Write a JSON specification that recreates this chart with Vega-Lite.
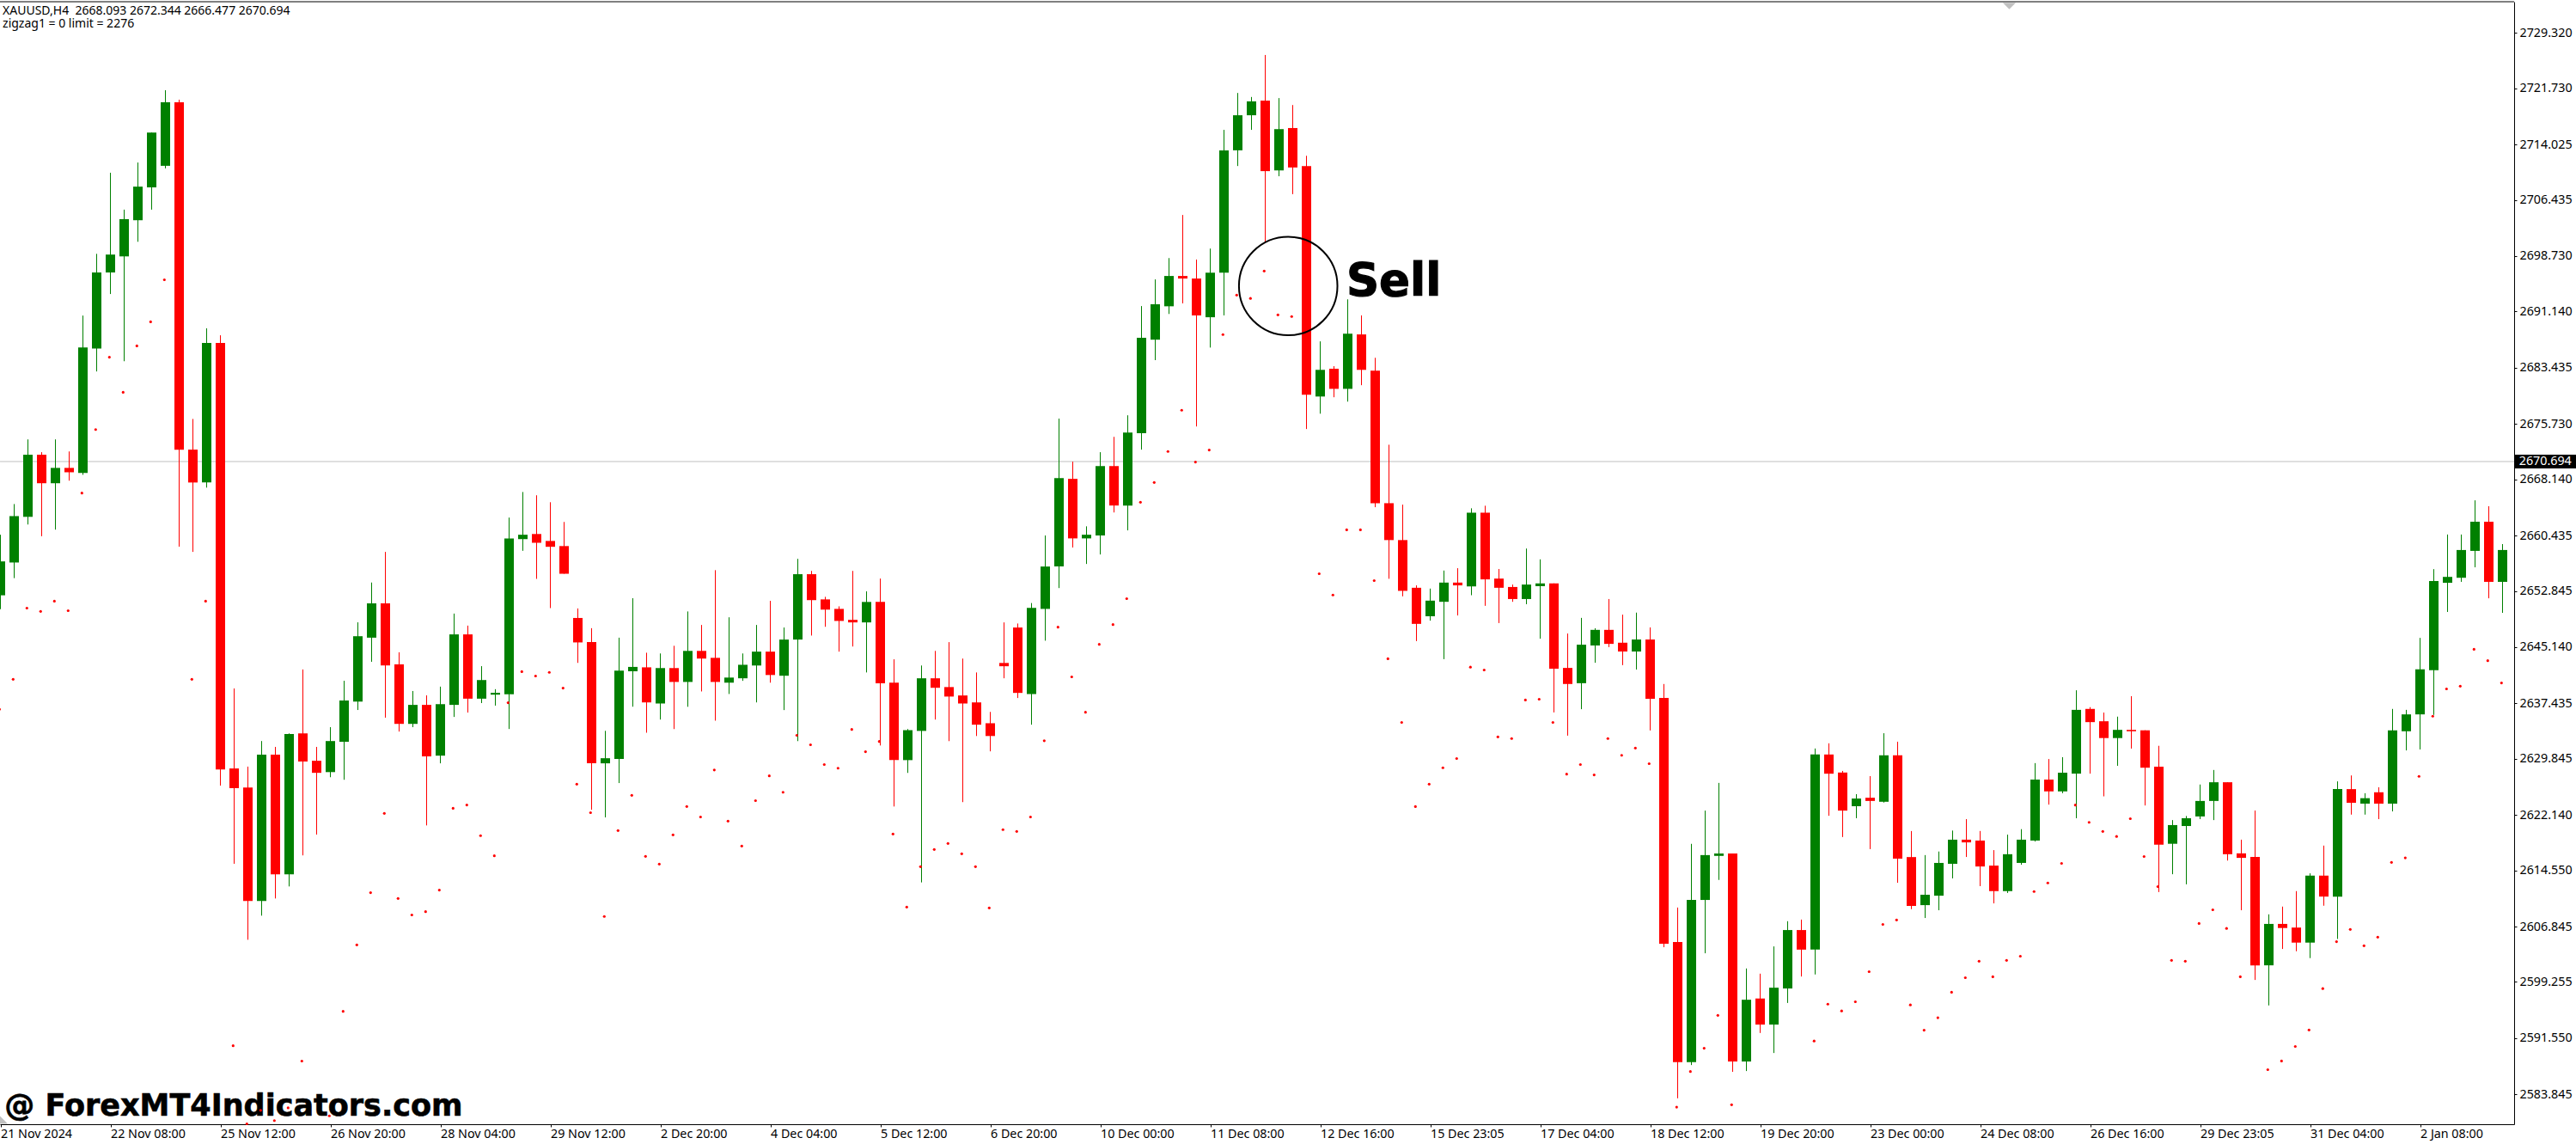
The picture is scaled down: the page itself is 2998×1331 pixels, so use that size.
{
  "$schema": "https://vega.github.io/schema/vega-lite/v6.json",
  "width": 2926,
  "height": 1306,
  "autosize": "none",
  "padding": {"left": 0, "top": 2, "right": 72, "bottom": 23},
  "background": "#ffffff",
  "view": {"stroke": null},
  "datasets": {
    "candles": [
      {"i":0,"o":2652.34,"h":2660.63,"l":2650.44,"c":2656.98},
      {"i":1,"o":2656.83,"h":2664.83,"l":2654.69,"c":2663.18},
      {"i":2,"o":2663.08,"h":2673.68,"l":2662.03,"c":2671.58},
      {"i":3,"o":2671.58,"h":2671.93,"l":2660.43,"c":2667.68},
      {"i":4,"o":2667.68,"h":2673.68,"l":2661.33,"c":2669.78},
      {"i":5,"o":2669.78,"h":2672.03,"l":2668.03,"c":2669.18},
      {"i":6,"o":2669.08,"h":2690.63,"l":2668.83,"c":2686.28},
      {"i":7,"o":2686.13,"h":2699.08,"l":2682.98,"c":2696.53},
      {"i":8,"o":2696.53,"h":2710.18,"l":2693.58,"c":2698.98},
      {"i":9,"o":2698.73,"h":2705.13,"l":2684.38,"c":2703.83},
      {"i":10,"o":2703.68,"h":2711.58,"l":2700.73,"c":2708.28},
      {"i":11,"o":2708.18,"h":2715.68,"l":2705.13,"c":2715.68},
      {"i":12,"o":2711.13,"h":2721.48,"l":2710.78,"c":2719.83},
      {"i":13,"o":2719.83,"h":2720.18,"l":2659.0,"c":2672.28},
      {"i":14,"o":2672.28,"h":2676.48,"l":2658.28,"c":2667.78},
      {"i":15,"o":2667.78,"h":2688.88,"l":2667.08,"c":2686.88},
      {"i":16,"o":2686.88,"h":2687.93,"l":2626.29,"c":2628.49},
      {"i":17,"o":2628.64,"h":2639.59,"l":2615.59,"c":2625.94},
      {"i":18,"o":2626.04,"h":2628.89,"l":2605.19,"c":2610.49},
      {"i":19,"o":2610.49,"h":2632.39,"l":2608.49,"c":2630.54},
      {"i":20,"o":2630.54,"h":2631.59,"l":2610.84,"c":2614.14},
      {"i":21,"o":2614.14,"h":2633.44,"l":2612.49,"c":2633.34},
      {"i":22,"o":2633.44,"h":2642.19,"l":2616.74,"c":2629.59},
      {"i":23,"o":2629.69,"h":2631.59,"l":2619.59,"c":2628.04},
      {"i":24,"o":2628.14,"h":2634.29,"l":2627.44,"c":2632.39},
      {"i":25,"o":2632.29,"h":2640.64,"l":2627.09,"c":2637.94},
      {"i":26,"o":2637.79,"h":2648.64,"l":2636.64,"c":2646.74},
      {"i":27,"o":2646.54,"h":2654.09,"l":2643.24,"c":2651.24},
      {"i":28,"o":2651.24,"h":2658.28,"l":2635.59,"c":2642.74},
      {"i":29,"o":2642.89,"h":2644.54,"l":2633.69,"c":2634.74},
      {"i":30,"o":2634.74,"h":2639.24,"l":2634.29,"c":2637.34},
      {"i":31,"o":2637.34,"h":2638.64,"l":2620.84,"c":2630.29},
      {"i":32,"o":2630.39,"h":2639.84,"l":2629.34,"c":2637.44},
      {"i":33,"o":2637.34,"h":2649.84,"l":2635.69,"c":2646.99},
      {"i":34,"o":2646.99,"h":2648.19,"l":2636.29,"c":2638.19},
      {"i":35,"o":2638.19,"h":2642.64,"l":2637.59,"c":2640.74},
      {"i":36,"o":2638.74,"h":2639.49,"l":2637.24,"c":2638.99},
      {"i":37,"o":2638.79,"h":2662.98,"l":2634.04,"c":2660.13},
      {"i":38,"o":2660.03,"h":2666.48,"l":2658.43,"c":2660.63},
      {"i":39,"o":2660.73,"h":2666.03,"l":2654.59,"c":2659.53},
      {"i":40,"o":2659.78,"h":2665.08,"l":2650.59,"c":2658.98},
      {"i":41,"o":2659.08,"h":2662.38,"l":2655.29,"c":2655.29},
      {"i":42,"o":2649.24,"h":2650.54,"l":2643.09,"c":2645.89},
      {"i":43,"o":2645.94,"h":2647.84,"l":2622.99,"c":2629.34},
      {"i":44,"o":2629.34,"h":2633.79,"l":2621.94,"c":2630.04},
      {"i":45,"o":2629.94,"h":2646.54,"l":2626.64,"c":2642.04},
      {"i":46,"o":2641.94,"h":2651.94,"l":2637.09,"c":2642.54},
      {"i":47,"o":2642.48,"h":2644.48,"l":2633.53,"c":2637.68},
      {"i":48,"o":2637.53,"h":2644.38,"l":2635.33,"c":2642.38},
      {"i":49,"o":2642.38,"h":2645.43,"l":2634.03,"c":2640.48},
      {"i":50,"o":2640.48,"h":2650.13,"l":2637.08,"c":2644.73},
      {"i":51,"o":2644.73,"h":2648.28,"l":2639.18,"c":2643.68},
      {"i":52,"o":2643.78,"h":2655.78,"l":2635.18,"c":2640.48},
      {"i":53,"o":2640.38,"h":2649.33,"l":2638.83,"c":2641.08},
      {"i":54,"o":2640.98,"h":2644.38,"l":2640.63,"c":2642.83},
      {"i":55,"o":2642.73,"h":2648.28,"l":2637.68,"c":2644.63},
      {"i":56,"o":2644.63,"h":2651.58,"l":2640.38,"c":2641.43},
      {"i":57,"o":2641.33,"h":2647.93,"l":2636.63,"c":2646.28},
      {"i":58,"o":2646.28,"h":2657.33,"l":2632.38,"c":2655.23},
      {"i":59,"o":2655.23,"h":2655.68,"l":2646.83,"c":2651.68},
      {"i":60,"o":2651.78,"h":2652.13,"l":2648.03,"c":2650.38},
      {"i":61,"o":2650.48,"h":2650.83,"l":2644.63,"c":2648.83},
      {"i":62,"o":2648.98,"h":2655.68,"l":2645.33,"c":2648.63},
      {"i":63,"o":2648.63,"h":2652.88,"l":2641.78,"c":2651.43},
      {"i":64,"o":2651.43,"h":2654.63,"l":2631.78,"c":2640.28},
      {"i":65,"o":2640.38,"h":2643.58,"l":2623.43,"c":2629.78},
      {"i":66,"o":2629.78,"h":2634.03,"l":2628.03,"c":2633.88},
      {"i":67,"o":2633.78,"h":2642.73,"l":2613.04,"c":2640.98},
      {"i":68,"o":2640.98,"h":2644.73,"l":2635.33,"c":2639.68},
      {"i":69,"o":2639.78,"h":2645.93,"l":2632.38,"c":2638.48},
      {"i":70,"o":2638.63,"h":2643.68,"l":2624.03,"c":2637.53},
      {"i":71,"o":2637.68,"h":2641.78,"l":2633.08,"c":2634.63},
      {"i":72,"o":2634.83,"h":2636.38,"l":2630.98,"c":2633.08},
      {"i":73,"o":2643.08,"h":2648.63,"l":2640.98,"c":2642.63},
      {"i":74,"o":2647.93,"h":2648.48,"l":2638.28,"c":2638.98},
      {"i":75,"o":2638.83,"h":2651.28,"l":2634.63,"c":2650.63},
      {"i":76,"o":2650.48,"h":2660.53,"l":2646.13,"c":2656.28},
      {"i":77,"o":2656.28,"h":2676.53,"l":2653.33,"c":2668.38},
      {"i":78,"o":2668.28,"h":2670.63,"l":2658.88,"c":2660.13},
      {"i":79,"o":2660.13,"h":2661.78,"l":2656.63,"c":2660.63},
      {"i":80,"o":2660.53,"h":2671.93,"l":2657.93,"c":2670.03},
      {"i":81,"o":2670.03,"h":2674.03,"l":2663.68,"c":2664.63},
      {"i":82,"o":2664.63,"h":2676.98,"l":2661.23,"c":2674.63},
      {"i":83,"o":2674.53,"h":2691.93,"l":2672.28,"c":2687.58},
      {"i":84,"o":2687.33,"h":2695.58,"l":2684.53,"c":2692.18},
      {"i":85,"o":2691.9,"h":2698.5,"l":2690.85,"c":2696.05},
      {"i":86,"o":2696.05,"h":2704.4,"l":2692.3,"c":2695.7},
      {"i":87,"o":2695.7,"h":2698.3,"l":2675.45,"c":2690.65},
      {"i":88,"o":2690.4,"h":2699.8,"l":2686.25,"c":2696.5},
      {"i":89,"o":2696.5,"h":2716.05,"l":2690.65,"c":2713.25},
      {"i":90,"o":2713.25,"h":2721.1,"l":2711.1,"c":2718.05},
      {"i":91,"o":2718.05,"h":2720.55,"l":2716.05,"c":2719.95},
      {"i":92,"o":2720.05,"h":2726.3,"l":2700.55,"c":2710.4},
      {"i":93,"o":2710.5,"h":2720.4,"l":2709.7,"c":2716.15},
      {"i":94,"o":2716.3,"h":2719.45,"l":2707.25,"c":2710.9},
      {"i":95,"o":2711.1,"h":2712.5,"l":2675.1,"c":2679.8},
      {"i":96,"o":2679.55,"h":2687.1,"l":2677.2,"c":2683.2},
      {"i":97,"o":2683.35,"h":2683.7,"l":2679.45,"c":2680.6},
      {"i":98,"o":2680.6,"h":2692.85,"l":2678.85,"c":2688.15},
      {"i":99,"o":2688.05,"h":2690.65,"l":2681.1,"c":2683.2},
      {"i":100,"o":2683.1,"h":2684.85,"l":2664.4,"c":2664.95},
      {"i":101,"o":2664.95,"h":2672.95,"l":2654.6,"c":2659.9},
      {"i":102,"o":2659.9,"h":2664.75,"l":2652.2,"c":2652.95},
      {"i":103,"o":2653.37,"h":2653.7,"l":2646.07,"c":2648.43},
      {"i":104,"o":2649.47,"h":2653.26,"l":2648.87,"c":2651.61},
      {"i":105,"o":2651.45,"h":2655.73,"l":2643.6,"c":2654.08},
      {"i":106,"o":2654.08,"h":2656.05,"l":2649.58,"c":2653.7},
      {"i":107,"o":2653.55,"h":2664.25,"l":2652.35,"c":2663.65},
      {"i":108,"o":2663.65,"h":2664.6,"l":2650.9,"c":2654.52},
      {"i":109,"o":2654.63,"h":2655.94,"l":2648.54,"c":2653.37},
      {"i":110,"o":2653.48,"h":2653.81,"l":2651.45,"c":2651.83},
      {"i":111,"o":2651.83,"h":2658.74,"l":2651.12,"c":2653.81},
      {"i":112,"o":2653.59,"h":2657.26,"l":2646.4,"c":2653.97},
      {"i":113,"o":2653.97,"h":2653.97,"l":2636.31,"c":2642.29},
      {"i":114,"o":2642.4,"h":2647.11,"l":2633.13,"c":2640.2},
      {"i":115,"o":2640.31,"h":2649.25,"l":2636.75,"c":2645.58},
      {"i":116,"o":2645.47,"h":2647.83,"l":2643.11,"c":2647.61},
      {"i":117,"o":2647.61,"h":2651.83,"l":2645.25,"c":2645.69},
      {"i":118,"o":2645.85,"h":2649.69,"l":2642.78,"c":2644.65},
      {"i":119,"o":2644.65,"h":2649.97,"l":2642.18,"c":2646.29},
      {"i":120,"o":2646.29,"h":2647.94,"l":2633.84,"c":2638.17},
      {"i":121,"o":2638.28,"h":2640.2,"l":2604.17,"c":2604.66},
      {"i":122,"o":2604.88,"h":2609.6,"l":2583.49,"c":2588.43},
      {"i":123,"o":2588.43,"h":2618.32,"l":2588.04,"c":2610.64},
      {"i":124,"o":2610.64,"h":2622.87,"l":2603.34,"c":2616.78},
      {"i":125,"o":2616.67,"h":2626.66,"l":2613.38,"c":2617.0},
      {"i":126,"o":2617.0,"h":2617.0,"l":2587.11,"c":2588.53},
      {"i":127,"o":2588.53,"h":2601.26,"l":2587.22,"c":2596.98},
      {"i":128,"o":2597.15,"h":2600.55,"l":2592.43,"c":2593.58},
      {"i":129,"o":2593.58,"h":2604.28,"l":2589.69,"c":2598.63},
      {"i":130,"o":2598.52,"h":2607.73,"l":2596.54,"c":2606.52},
      {"i":131,"o":2606.52,"h":2607.95,"l":2600.16,"c":2603.84},
      {"i":132,"o":2603.84,"h":2631.37,"l":2600.44,"c":2630.55},
      {"i":133,"o":2630.55,"h":2632.08,"l":2622.16,"c":2627.92},
      {"i":134,"o":2628.08,"h":2628.3,"l":2619.25,"c":2622.87},
      {"i":135,"o":2623.47,"h":2625.12,"l":2621.83,"c":2624.52},
      {"i":136,"o":2624.63,"h":2627.59,"l":2617.6,"c":2624.19},
      {"i":137,"o":2624.08,"h":2633.46,"l":2623.97,"c":2630.44},
      {"i":138,"o":2630.44,"h":2632.3,"l":2612.99,"c":2616.29},
      {"i":139,"o":2616.51,"h":2620.07,"l":2609.38,"c":2609.82},
      {"i":140,"o":2609.93,"h":2616.78,"l":2608.17,"c":2611.35},
      {"i":141,"o":2611.22,"h":2617.27,"l":2609.23,"c":2615.71},
      {"i":142,"o":2615.59,"h":2620.14,"l":2613.59,"c":2618.89},
      {"i":143,"o":2618.89,"h":2621.7,"l":2616.52,"c":2618.52},
      {"i":144,"o":2618.77,"h":2620.08,"l":2612.53,"c":2615.22},
      {"i":145,"o":2615.34,"h":2617.46,"l":2610.17,"c":2611.85},
      {"i":146,"o":2611.85,"h":2619.58,"l":2611.6,"c":2616.9},
      {"i":147,"o":2615.71,"h":2620.33,"l":2615.46,"c":2618.89},
      {"i":148,"o":2618.77,"h":2629.37,"l":2618.64,"c":2627.12},
      {"i":149,"o":2627.12,"h":2629.93,"l":2623.69,"c":2625.5},
      {"i":150,"o":2625.5,"h":2630.18,"l":2625.25,"c":2628.06},
      {"i":151,"o":2627.93,"h":2639.34,"l":2621.82,"c":2636.66},
      {"i":152,"o":2636.79,"h":2637.03,"l":2627.93,"c":2634.98},
      {"i":153,"o":2635.1,"h":2636.29,"l":2624.82,"c":2632.8},
      {"i":154,"o":2632.8,"h":2635.73,"l":2629.0,"c":2633.92},
      {"i":155,"o":2633.92,"h":2638.53,"l":2631.36,"c":2633.73},
      {"i":156,"o":2633.86,"h":2633.86,"l":2623.57,"c":2628.74},
      {"i":157,"o":2628.87,"h":2631.74,"l":2611.72,"c":2618.21},
      {"i":158,"o":2618.33,"h":2621.57,"l":2614.16,"c":2620.89},
      {"i":159,"o":2620.76,"h":2622.13,"l":2612.78,"c":2621.82},
      {"i":160,"o":2622.07,"h":2626.44,"l":2621.7,"c":2624.19},
      {"i":161,"o":2624.19,"h":2628.43,"l":2621.57,"c":2626.75},
      {"i":162,"o":2626.75,"h":2626.75,"l":2616.03,"c":2616.9},
      {"i":163,"o":2617.02,"h":2618.89,"l":2609.23,"c":2616.4},
      {"i":164,"o":2616.52,"h":2622.88,"l":2599.69,"c":2601.69},
      {"i":165,"o":2601.69,"h":2608.67,"l":2596.2,"c":2607.36},
      {"i":166,"o":2607.36,"h":2609.73,"l":2603.93,"c":2606.8},
      {"i":167,"o":2606.86,"h":2611.85,"l":2603.62,"c":2604.8},
      {"i":168,"o":2604.8,"h":2614.28,"l":2602.68,"c":2613.97},
      {"i":169,"o":2613.97,"h":2618.08,"l":2609.85,"c":2611.1},
      {"i":170,"o":2611.1,"h":2626.87,"l":2605.3,"c":2625.81},
      {"i":171,"o":2625.81,"h":2627.68,"l":2622.32,"c":2623.94},
      {"i":172,"o":2623.82,"h":2625.25,"l":2622.32,"c":2624.57},
      {"i":173,"o":2625.38,"h":2626.06,"l":2621.7,"c":2623.82},
      {"i":174,"o":2623.82,"h":2636.79,"l":2622.76,"c":2633.86},
      {"i":175,"o":2633.73,"h":2636.66,"l":2631.11,"c":2636.04},
      {"i":176,"o":2636.04,"h":2646.51,"l":2631.24,"c":2642.21},
      {"i":177,"o":2642.08,"h":2655.92,"l":2635.97,"c":2654.3},
      {"i":178,"o":2654.05,"h":2660.66,"l":2650.06,"c":2654.86},
      {"i":179,"o":2654.74,"h":2660.66,"l":2654.18,"c":2658.54},
      {"i":180,"o":2658.42,"h":2665.34,"l":2656.17,"c":2662.41},
      {"i":181,"o":2662.41,"h":2664.53,"l":2651.93,"c":2654.18},
      {"i":182,"o":2654.18,"h":2659.35,"l":2649.94,"c":2658.54}
    ],
    "zigzag": [
      {"i":0,"p":2636.74},{"i":1,"p":2640.84},{"i":2,"p":2650.59},{"i":3,"p":2650.14},{"i":4,"p":2651.54},{"i":5,"p":2650.24},
      {"i":6,"p":2666.33},{"i":7,"p":2675.03},{"i":8,"p":2684.93},{"i":9,"p":2680.13},{"i":10,"p":2686.48},{"i":11,"p":2689.78},{"i":12,"p":2695.53},
      {"i":14,"p":2640.84},{"i":15,"p":2651.54},{"i":17,"p":2590.69},{"i":18,"p":2580.0},{"i":19,"p":2581.84},{"i":20,"p":2580.44},{"i":21,"p":2582.19},{"i":22,"p":2588.59},
      {"i":24,"p":2581.09},{"i":25,"p":2595.39},{"i":26,"p":2604.49},{"i":27,"p":2611.64},{"i":28,"p":2622.49},{"i":29,"p":2610.84},{"i":30,"p":2608.59},{"i":31,"p":2609.04},{"i":32,"p":2611.99},
      {"i":33,"p":2623.19},{"i":34,"p":2623.64},{"i":35,"p":2619.44},{"i":36,"p":2616.69},{"i":37,"p":2637.64},{"i":38,"p":2641.89},{"i":39,"p":2641.29},{"i":40,"p":2641.79},{"i":41,"p":2639.64},
      {"i":42,"p":2626.49},{"i":43,"p":2622.59},{"i":44,"p":2608.38},{"i":45,"p":2620.14},{"i":46,"p":2624.96},{"i":47,"p":2616.61},{"i":48,"p":2615.55},{"i":49,"p":2619.55},
      {"i":50,"p":2623.43},{"i":51,"p":2622.0},{"i":52,"p":2628.43},{"i":53,"p":2621.43},{"i":54,"p":2618.02},{"i":55,"p":2624.23},{"i":56,"p":2627.63},{"i":57,"p":2625.38},
      {"i":58,"p":2633.18},{"i":59,"p":2631.88},{"i":60,"p":2629.18},{"i":61,"p":2628.68},{"i":62,"p":2633.98},{"i":63,"p":2630.93},{"i":64,"p":2632.33},
      {"i":65,"p":2619.67},{"i":66,"p":2609.67},{"i":67,"p":2615.2},{"i":68,"p":2617.55},{"i":69,"p":2618.37},{"i":70,"p":2616.96},{"i":71,"p":2615.2},{"i":72,"p":2609.55},{"i":73,"p":2620.26},{"i":74,"p":2620.02},{"i":75,"p":2622.0},
      {"i":76,"p":2632.43},{"i":77,"p":2647.98},{"i":78,"p":2641.18},{"i":79,"p":2636.33},{"i":80,"p":2645.63},{"i":81,"p":2648.33},{"i":82,"p":2651.88},{"i":83,"p":2665.08},{"i":84,"p":2667.78},
      {"i":85,"p":2672.03},{"i":86,"p":2677.68},{"i":87,"p":2670.58},{"i":88,"p":2672.23},{"i":89,"p":2688.03},{"i":90,"p":2693.43},{"i":91,"p":2692.98},{"i":92,"p":2696.73},{"i":93,"p":2690.73},{"i":94,"p":2690.5},
      {"i":96,"p":2655.29},{"i":97,"p":2652.38},{"i":98,"p":2661.3},{"i":99,"p":2661.3},{"i":100,"p":2654.35},
      {"i":101,"p":2643.66},{"i":102,"p":2634.94},{"i":103,"p":2623.42},{"i":104,"p":2626.49},{"i":105,"p":2628.74},{"i":106,"p":2630.0},{"i":107,"p":2642.51},{"i":108,"p":2642.12},{"i":109,"p":2632.96},
      {"i":110,"p":2632.74},{"i":111,"p":2638.01},{"i":112,"p":2638.12},{"i":113,"p":2634.94},{"i":114,"p":2627.86},{"i":115,"p":2629.18},{"i":116,"p":2627.75},{"i":117,"p":2632.74},{"i":118,"p":2630.44},{"i":119,"p":2631.43},{"i":120,"p":2629.29},
      {"i":122,"p":2582.28},{"i":123,"p":2587.16},{"i":124,"p":2590.34},{"i":125,"p":2594.84},{"i":126,"p":2582.61},
      {"i":132,"p":2591.33},{"i":133,"p":2596.38},{"i":134,"p":2595.45},{"i":135,"p":2596.71},{"i":136,"p":2600.82},{"i":137,"p":2607.29},{"i":138,"p":2607.9},{"i":139,"p":2596.27},{"i":140,"p":2592.81},
      {"i":141,"p":2594.52},{"i":142,"p":2598.01},{"i":143,"p":2600.0},{"i":144,"p":2602.25},{"i":145,"p":2600.13},{"i":146,"p":2602.37},{"i":147,"p":2602.94},{"i":148,"p":2611.79},{"i":149,"p":2612.97},{"i":150,"p":2615.65},
      {"i":151,"p":2623.63},{"i":152,"p":2621.26},{"i":153,"p":2620.02},{"i":154,"p":2619.33},{"i":155,"p":2621.76},{"i":156,"p":2616.59},{"i":157,"p":2612.47},{"i":158,"p":2602.37},{"i":159,"p":2602.25},{"i":160,"p":2607.42},
      {"i":161,"p":2609.29},{"i":162,"p":2606.74},{"i":163,"p":2600.13},{"i":165,"p":2587.41},{"i":166,"p":2588.6},{"i":167,"p":2590.59},{"i":168,"p":2592.84},{"i":169,"p":2598.51},{"i":170,"p":2604.93},
      {"i":171,"p":2606.61},{"i":172,"p":2604.37},{"i":173,"p":2605.55},{"i":174,"p":2615.78},{"i":175,"p":2616.4},{"i":176,"p":2627.56},{"i":177,"p":2635.79},{"i":178,"p":2639.53},{"i":179,"p":2639.9},{"i":180,"p":2644.95},{"i":181,"p":2643.39},{"i":182,"p":2640.34}
    ],
    "priceTicks": [
      {"i":0,"p":2729.32},{"i":0,"p":2721.73},{"i":0,"p":2714.025},{"i":0,"p":2706.435},{"i":0,"p":2698.73},
      {"i":0,"p":2691.14},{"i":0,"p":2683.435},{"i":0,"p":2675.73},{"i":0,"p":2668.14},{"i":0,"p":2660.435},
      {"i":0,"p":2652.845},{"i":0,"p":2645.14},{"i":0,"p":2637.435},{"i":0,"p":2629.845},{"i":0,"p":2622.14},
      {"i":0,"p":2614.55},{"i":0,"p":2606.845},{"i":0,"p":2599.255},{"i":0,"p":2591.55},{"i":0,"p":2583.845}
    ]
  },
  "encoding": {
    "x": {
      "field": "i",
      "type": "quantitative",
      "title": null,
      "scale": {"domain": [-0.03125, 182.84375], "nice": false, "zero": false, "padding": 0},
      "axis": {
        "values": [0,8,16,24,32,40,48,56,64,72,80,88,96,104,112,120,128,136,144,152,160,168,176],
        "labelExpr": "['21 Nov 2024','22 Nov 08:00','25 Nov 12:00','26 Nov 20:00','28 Nov 04:00','29 Nov 12:00','2 Dec 20:00','4 Dec 04:00','5 Dec 12:00','6 Dec 20:00','10 Dec 00:00','11 Dec 08:00','12 Dec 16:00','15 Dec 23:05','17 Dec 04:00','18 Dec 12:00','19 Dec 20:00','23 Dec 00:00','24 Dec 08:00','26 Dec 16:00','29 Dec 23:05','31 Dec 04:00','2 Jan 08:00'][datum.value/8]",
        "grid": false,
        "domainColor": "#000000",
        "tickColor": "#000000",
        "tickSize": 3,
        "labelFont": "Noto Sans",
        "labelFontSize": 14.3,
        "labelColor": "#000000",
        "labelAlign": "left",
        "labelPadding": 1,
        "labelFlush": false,
        "labelBound": false,
        "labelOverlap": false
      }
    }
  },
  "resolve": {"scale": {"y": "independent"}},
  "layer": [
    {
      "data": {"name": "priceTicks"},
      "mark": {"type": "point", "opacity": 0},
      "encoding": {
        "y": {
          "field": "p",
          "type": "quantitative",
          "title": null,
          "scale": {"domain": [2579.756, 2733.596], "nice": false, "zero": false},
          "axis": {
            "orient": "right",
            "values": [2729.32,2721.73,2714.025,2706.435,2698.73,2691.14,2683.435,2675.73,2668.14,2660.435,2652.845,2645.14,2637.435,2629.845,2622.14,2614.55,2606.845,2599.255,2591.55,2583.845],
            "format": ".3f",
            "grid": false,
            "domainColor": "#000000",
            "tickColor": "#000000",
            "tickSize": 3,
            "labelFont": "Noto Sans",
            "labelFontSize": 14.3,
            "labelColor": "#000000",
            "labelPadding": 3,
            "labelOverlap": false,
            "labelBound": false,
            "labelFlush": false
          }
        }
      }
    },
    {
      "layer": [
        {
          "data": {"values": [{"i": -0.03, "i2": 182.84, "p": 2733.59}]},
          "mark": {"type": "rule", "color": "#000000", "strokeWidth": 1},
          "encoding": {
            "x2": {"field": "i2"},
            "y": {"field": "p", "type": "quantitative", "title": null, "axis": null, "scale": {"domain": [2579.94, 2733.59], "nice": false, "zero": false}}
          }
        },
        {
          "data": {"values": [{"i": -0.03, "i2": 182.84, "p": 2670.65}]},
          "mark": {"type": "rule", "color": "#c0c0c0", "strokeWidth": 1},
          "encoding": {
            "x2": {"field": "i2"},
            "y": {"field": "p", "type": "quantitative", "title": null, "axis": null, "scale": {"domain": [2579.94, 2733.59], "nice": false, "zero": false}}
          }
        },
        {
          "data": {"values": [{"i": 0.3, "p": 2581.12, "t": "@ ForexMT4Indicators.com"}]},
          "mark": {"type": "text", "align": "left", "baseline": "alphabetic", "font": "DejaVu Sans", "fontWeight": "bold", "fontSize": 35, "color": "#000000", "stroke": "#000000", "strokeWidth": 0.6},
          "encoding": {
            "y": {"field": "p", "type": "quantitative", "title": null, "axis": null, "scale": {"domain": [2579.94, 2733.59], "nice": false, "zero": false}},
            "text": {"field": "t"}
          }
        },
        {
          "data": {"name": "candles"},
          "mark": {"type": "rule", "strokeWidth": 1},
          "encoding": {
            "y": {"field": "l", "type": "quantitative", "title": null, "axis": null, "scale": {"domain": [2579.94, 2733.59], "nice": false, "zero": false}},
            "y2": {"field": "h"},
            "color": {"condition": {"test": "datum.c >= datum.o", "value": "#008000"}, "value": "#ff0000"}
          }
        },
        {
          "data": {"name": "candles"},
          "mark": {"type": "bar", "size": 11},
          "encoding": {
            "y": {"field": "o", "type": "quantitative", "title": null, "axis": null, "scale": {"domain": [2579.94, 2733.59], "nice": false, "zero": false}},
            "y2": {"field": "c"},
            "color": {"condition": {"test": "datum.c >= datum.o", "value": "#008000"}, "value": "#ff0000"}
          }
        },
        {
          "data": {"name": "zigzag"},
          "mark": {"type": "point", "filled": true, "size": 10, "opacity": 1, "xOffset": -1.2, "color": "#ff0000", "strokeWidth": 0},
          "encoding": {
            "y": {"field": "p", "type": "quantitative", "title": null, "axis": null, "scale": {"domain": [2579.94, 2733.59], "nice": false, "zero": false}}
          }
        },
        {
          "data": {"values": [{"i": 93.67, "p": 2694.67}]},
          "mark": {"type": "point", "shape": "circle", "size": 13133, "filled": false, "opacity": 1, "color": "#000000", "strokeWidth": 2},
          "encoding": {
            "y": {"field": "p", "type": "quantitative", "title": null, "axis": null, "scale": {"domain": [2579.94, 2733.59], "nice": false, "zero": false}}
          }
        },
        {
          "data": {"values": [{"i": 97.9, "p": 2693.36, "t": "Sell"}]},
          "mark": {"type": "text", "align": "left", "baseline": "alphabetic", "font": "DejaVu Sans", "fontWeight": "bold", "fontSize": 53, "color": "#000000", "stroke": "#000000", "strokeWidth": 1.2},
          "encoding": {
            "y": {"field": "p", "type": "quantitative", "title": null, "axis": null, "scale": {"domain": [2579.94, 2733.59], "nice": false, "zero": false}},
            "text": {"field": "t"}
          }
        },
        {
          "data": {"values": [{"i": 146.12, "p": 2733.0}]},
          "mark": {"type": "point", "shape": "M-1,-0.5L1,-0.5L0,0.5Z", "size": 225, "filled": true, "opacity": 1, "color": "#c0c0c0", "strokeWidth": 0},
          "encoding": {
            "y": {"field": "p", "type": "quantitative", "title": null, "axis": null, "scale": {"domain": [2579.94, 2733.59], "nice": false, "zero": false}}
          }
        },
        {
          "data": {"values": [{"i": 0.25, "p": 2580.53}]},
          "mark": {"type": "point", "shape": "M-1,-1L1,1L-1,1Z", "size": 81, "filled": true, "opacity": 1, "color": "#c0c0c0", "strokeWidth": 0},
          "encoding": {
            "y": {"field": "p", "type": "quantitative", "title": null, "axis": null, "scale": {"domain": [2579.94, 2733.59], "nice": false, "zero": false}}
          }
        },
        {
          "data": {"values": [
            {"i": 0.16, "p": 2732.25, "t": "XAUUSD,H4\u00a0\u00a02668.093 2672.344 2666.477 2670.694"},
            {"i": 0.16, "p": 2730.55, "t": "zigzag1 = 0 limit = 2276"}
          ]},
          "mark": {"type": "text", "align": "left", "baseline": "middle", "font": "Noto Sans", "fontSize": 14, "color": "#000000"},
          "encoding": {
            "y": {"field": "p", "type": "quantitative", "title": null, "axis": null, "scale": {"domain": [2579.94, 2733.59], "nice": false, "zero": false}},
            "text": {"field": "t"}
          }
        },
        {
          "data": {"values": [{"i": 182.9, "i2": 187.4, "p": 2671.59, "p2": 2669.71}]},
          "mark": {"type": "rect", "color": "#000000"},
          "encoding": {
            "x2": {"field": "i2"},
            "y": {"field": "p", "type": "quantitative", "title": null, "axis": null, "scale": {"domain": [2579.94, 2733.59], "nice": false, "zero": false}},
            "y2": {"field": "p2"}
          }
        },
        {
          "data": {"values": [{"i": 183.2, "p": 2670.65, "t": "2670.694"}]},
          "mark": {"type": "text", "align": "left", "baseline": "middle", "font": "Noto Sans", "fontSize": 14.3, "color": "#ffffff"},
          "encoding": {
            "y": {"field": "p", "type": "quantitative", "title": null, "axis": null, "scale": {"domain": [2579.94, 2733.59], "nice": false, "zero": false}},
            "text": {"field": "t"}
          }
        }
      ]
    }
  ]
}
